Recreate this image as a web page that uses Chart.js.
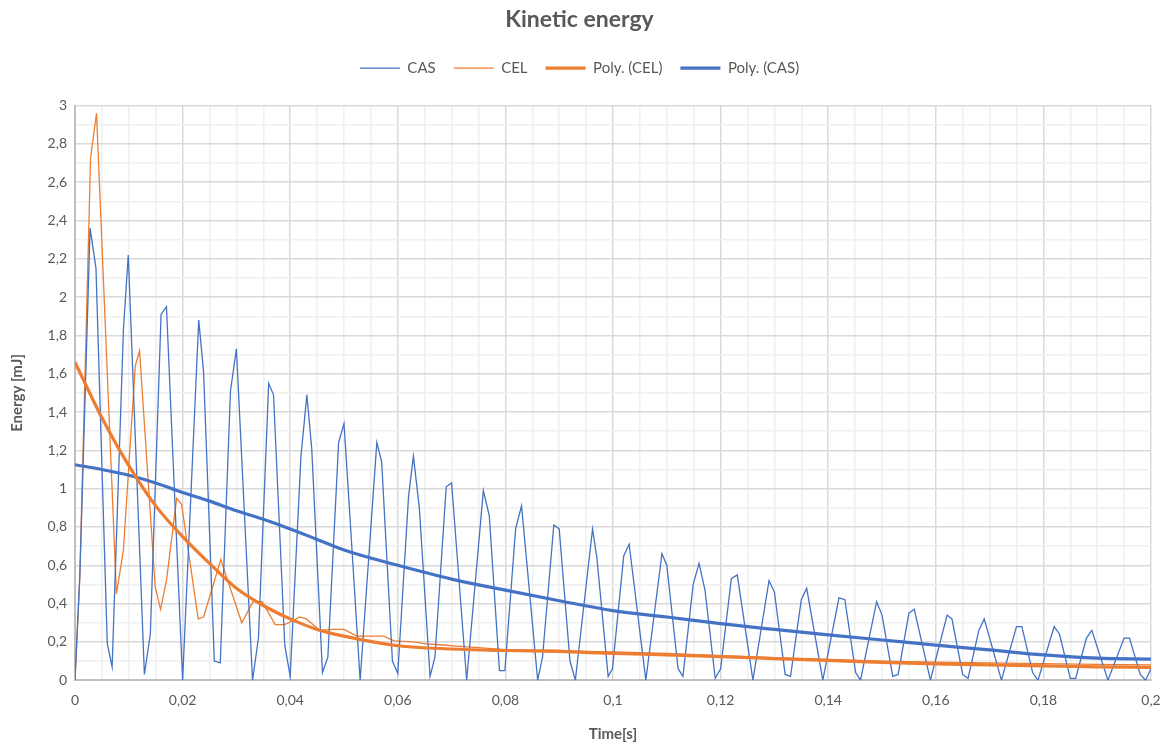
<!DOCTYPE html>
<html>
<head>
<meta charset="utf-8">
<title>Kinetic energy</title>
<script src="https://cdn.jsdelivr.net/npm/chart.js@4/dist/chart.umd.min.js"></script>
<style>
  html, body { margin: 0; padding: 0; background: #ffffff; }
  #wrap { width: 1169px; height: 747px; position: relative; }
</style>
</head>
<body>
<div id="wrap"><canvas id="energyChart"></canvas></div>
<script>
// CAS (raw) - time [s] / energy [mJ]
const casX = [0, 0.0009, 0.0028, 0.0039, 0.006, 0.0069, 0.009, 0.0099, 0.0129, 0.014,
  0.016, 0.017, 0.02, 0.023, 0.0239, 0.0259, 0.027, 0.0289, 0.03, 0.033,
  0.0341, 0.036, 0.0369, 0.039, 0.04, 0.042, 0.0431, 0.044, 0.046, 0.047,
  0.049, 0.05, 0.051, 0.053, 0.0561, 0.057, 0.059, 0.06, 0.062, 0.0629,
  0.064, 0.066, 0.0669, 0.069, 0.07, 0.0728, 0.0759, 0.077, 0.0789, 0.0799,
  0.0819, 0.083, 0.086, 0.0869, 0.089, 0.09, 0.092, 0.093, 0.0962, 0.097,
  0.0991, 0.0999, 0.102, 0.103, 0.1061, 0.1091, 0.11, 0.1121, 0.113, 0.1149,
  0.116, 0.1171, 0.119, 0.12, 0.122, 0.1231, 0.126, 0.129, 0.13, 0.132,
  0.133, 0.135, 0.136, 0.139, 0.142, 0.1431, 0.1451, 0.146, 0.149, 0.15,
  0.152, 0.153, 0.155, 0.156, 0.159, 0.1621, 0.163, 0.165, 0.166, 0.168,
  0.169, 0.1722, 0.175, 0.176, 0.178, 0.179, 0.182, 0.183, 0.185, 0.186,
  0.188, 0.189, 0.192, 0.195, 0.196, 0.198, 0.199, 0.2];
const casY = [0, 0.55, 2.36, 2.15, 0.19, 0.07, 1.83, 2.22, 0.03, 0.24,
  1.91, 1.95, 0.0, 1.88, 1.61, 0.10, 0.09, 1.51, 1.73, 0.0,
  0.22, 1.55, 1.49, 0.18, 0.02, 1.17, 1.49, 1.21, 0.04, 0.12,
  1.24, 1.34, 0.90, 0.0, 1.24, 1.14, 0.10, 0.035, 0.96, 1.17,
  0.90, 0.02, 0.12, 1.01, 1.03, 0.0, 0.99, 0.86, 0.05, 0.05,
  0.79, 0.91, 0.0, 0.12, 0.81, 0.79, 0.10, 0.0, 0.79, 0.64,
  0.02, 0.06, 0.65, 0.71, 0.0, 0.66, 0.60, 0.06, 0.02, 0.50,
  0.61, 0.47, 0.01, 0.06, 0.53, 0.55, 0.0, 0.52, 0.46, 0.03,
  0.02, 0.42, 0.48, 0.0, 0.43, 0.42, 0.04, 0.0, 0.41, 0.34,
  0.02, 0.03, 0.35, 0.37, 0.0, 0.34, 0.32, 0.03, 0.01, 0.26,
  0.32, 0.0, 0.28, 0.28, 0.04, 0.0, 0.28, 0.24, 0.01, 0.01,
  0.22, 0.26, 0.0, 0.22, 0.22, 0.03, 0.0, 0.06];

// CEL (raw)
const celX = [0, 0.0009, 0.0029, 0.004, 0.0077, 0.009, 0.0112, 0.012, 0.0149, 0.0159,
  0.017, 0.0189, 0.0198, 0.0229, 0.0239, 0.0271, 0.031, 0.0331, 0.0348, 0.0372,
  0.039, 0.0418, 0.043, 0.0455, 0.048, 0.05, 0.0524, 0.0555, 0.0574, 0.0593,
  0.0629, 0.0653, 0.0678, 0.071, 0.075, 0.08, 0.085, 0.09, 0.095, 0.1,
  0.11, 0.12, 0.13, 0.14, 0.15, 0.16, 0.17, 0.18, 0.19, 0.2];
const celY = [0, 0.54, 2.73, 2.96, 0.45, 0.68, 1.64, 1.72, 0.49, 0.37,
  0.52, 0.95, 0.92, 0.32, 0.33, 0.63, 0.30, 0.41, 0.41, 0.29,
  0.29, 0.33, 0.32, 0.26, 0.265, 0.265, 0.23, 0.23, 0.23, 0.205,
  0.20, 0.19, 0.185, 0.178, 0.17, 0.16, 0.157, 0.155, 0.15, 0.148,
  0.14, 0.128, 0.118, 0.108, 0.10, 0.094, 0.09, 0.087, 0.083, 0.08];

// polynomial trendlines
const polyX = [0, 0.005, 0.01, 0.015, 0.02, 0.025, 0.03, 0.035, 0.04, 0.045,
  0.05, 0.06, 0.07, 0.08, 0.09, 0.1, 0.11, 0.12, 0.13, 0.14,
  0.15, 0.16, 0.17, 0.18, 0.19, 0.2];
const polyCel = [1.66, 1.37, 1.12, 0.91, 0.75, 0.61, 0.48, 0.39, 0.32, 0.265,
  0.23, 0.18, 0.163, 0.155, 0.15, 0.14, 0.132, 0.123, 0.113, 0.103,
  0.093, 0.085, 0.08, 0.075, 0.07, 0.067];
const polyCas = [1.125, 1.1, 1.07, 1.03, 0.98, 0.935, 0.885, 0.84, 0.79, 0.735,
  0.68, 0.6, 0.528, 0.47, 0.415, 0.363, 0.33, 0.295, 0.265, 0.237,
  0.21, 0.183, 0.158, 0.132, 0.115, 0.11];

const textGrey = "#595959";
const blue = "#4472c4";
const orange = "#ed7d31";

function pairs(xs, ys) {
  return xs.map((x, i) => ({ x: x, y: ys[i] }));
}

function isMajor(v, step) {
  const r = v / step;
  return Math.abs(r - Math.round(r)) < 1e-6;
}

function comma(v) {
  return String(Math.round(v * 1000) / 1000).replace(".", ",");
}

// a bit more room under the legend, like the Excel original
const legendGap = {
  id: "legendGap",
  beforeInit(chart) {
    const fit = chart.legend.fit;
    chart.legend.fit = function () {
      fit.bind(chart.legend)();
      this.height += 20;
    };
  },
};

const ctx = document.getElementById("energyChart");

new Chart(ctx, {
  type: "line",

  data: {
    datasets: [
      {
        label: "CAS",
        data: pairs(casX, casY),
        borderColor: blue,
        borderWidth: 1.3,
        pointRadius: 0,
        tension: 0,
        order: 2,
      },
      {
        label: "CEL",
        data: pairs(celX, celY),
        borderColor: orange,
        borderWidth: 1.3,
        pointRadius: 0,
        tension: 0,
        order: 2,
      },
      {
        label: "Poly. (CEL)",
        data: pairs(polyX, polyCel),
        borderColor: orange,
        borderWidth: 3.2,
        pointRadius: 0,
        cubicInterpolationMode: "monotone",
        order: 1,
      },
      {
        label: "Poly. (CAS)",
        data: pairs(polyX, polyCas),
        borderColor: blue,
        borderWidth: 3.2,
        pointRadius: 0,
        cubicInterpolationMode: "monotone",
        order: 1,
      },
    ],
  },

  plugins: [legendGap],

  options: {
    responsive: true,
    maintainAspectRatio: false,
    animation: false,

    layout: {
      padding: { left: 8, right: 18, top: 2, bottom: 4 },
    },

    plugins: {
      title: {
        display: true,
        text: "Kinetic energy",
        color: textGrey,
        font: { family: "Lato", size: 23, weight: "bold" },
        padding: { top: 4, bottom: 9 },
      },

      legend: {
        position: "top",
        labels: {
          color: textGrey,
          font: { family: "Lato", size: 15 },
          usePointStyle: true,
          pointStyle: "line",
          pointStyleWidth: 40,
          padding: 18,
          sort: (a, b) => a.datasetIndex - b.datasetIndex,
        },
      },

      tooltip: { enabled: false },
    },

    scales: {
      x: {
        type: "linear",
        min: 0,
        max: 0.2,

        grid: {
          color: (c) => (isMajor(c.tick.value, 0.02) ? "#d9d9d9" : "#f0f0f0"),
          lineWidth: 1.5,
          drawTicks: false,
        },

        border: { color: "#bfbfbf", width: 2 },

        ticks: {
          stepSize: 0.005,
          autoSkip: false,
          maxRotation: 0,
          padding: 12,
          color: textGrey,
          font: { family: "Lato", size: 14 },
          callback: function (value) {
            return isMajor(value, 0.02) ? comma(value) : "";
          },
        },

        title: {
          display: true,
          text: "Time[s]",
          color: textGrey,
          font: { family: "Lato", size: 15, weight: "bold" },
          padding: { top: 4, bottom: 0 },
        },

        afterFit: function (scale) {
          scale.paddingRight = 0;
        },
      },

      y: {
        min: 0,
        max: 3,

        grid: {
          color: (c) => (isMajor(c.tick.value, 0.2) ? "#d9d9d9" : "#f0f0f0"),
          lineWidth: 1.5,
          drawTicks: false,
        },

        border: { color: "#bfbfbf", width: 2 },

        ticks: {
          stepSize: 0.1,
          autoSkip: false,
          padding: 8,
          color: textGrey,
          font: { family: "Lato", size: 14 },
          callback: function (value) {
            return isMajor(value, 0.2) ? comma(value) : "";
          },
        },

        title: {
          display: true,
          text: "Energy [mJ]",
          color: textGrey,
          font: { family: "Lato", size: 15, weight: "bold" },
          padding: { top: 0, bottom: 6 },
        },

        afterFit: function (scale) {
          scale.width = 67;
        },
      },
    },
  },
});
</script>
</body>
</html>
